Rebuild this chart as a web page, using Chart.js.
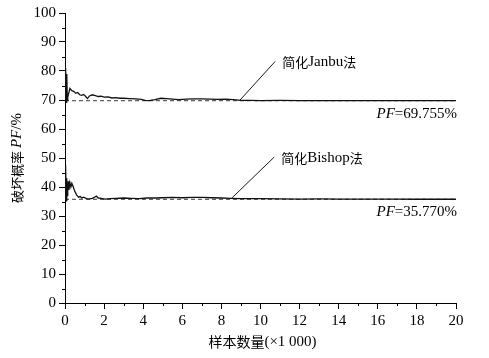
<!DOCTYPE html>
<html><head><meta charset="utf-8">
<script src="https://cdn.jsdelivr.net/npm/chart.js@4"></script>
<style>html,body{margin:0;padding:0;background:#fff}#wrap{width:489px;height:358px}</style>
</head><body><div id="wrap"><canvas id="c" width="489" height="358"></canvas></div>
<script>
const janbuX = [0,0.02,0.04,0.06,0.08,0.1,0.12,0.14,0.18,0.25,0.35,0.45,0.55,0.65,0.75,0.85,0.95,1.05,1.15,1.25,1.4,1.55,1.7,1.85,2.0,2.2,2.4,2.6,2.8,3.0,3.3,3.6,3.9,4.1,4.3,4.6,4.9,5.2,5.5,5.8,6.2,6.6,7.0,7.4,7.8,8.2,8.6,9.0,9.5,10,11,12,13,14,15,16,17,18,19,20];
const janbuY = [70,76,81,72,69,79,70,71,72,74,73.2,73,72.3,72.6,71.8,71.6,71.9,71.3,70.5,71.4,71.8,71.5,71.2,71.3,71.0,71.1,70.7,70.8,70.6,70.6,70.5,70.4,70.2,69.9,69.8,70.1,70.6,70.5,70.3,70.1,70.3,70.4,70.4,70.3,70.2,70.3,70.1,69.9,69.85,69.8,69.85,69.8,69.8,69.8,69.75,69.8,69.8,69.75,69.76,69.755];
const bishopX = [0,0.02,0.04,0.06,0.08,0.1,0.12,0.14,0.17,0.2,0.25,0.3,0.35,0.42,0.5,0.6,0.7,0.77,0.85,0.95,1.1,1.25,1.4,1.5,1.6,1.7,1.85,2.05,2.3,2.6,3.0,3.4,3.8,4.2,4.6,5.0,5.5,6.0,6.5,7.0,7.5,8.0,8.5,9,10,11,12,13,14,15,16,17,18,19,20];
const bishopY = [36,44,47.5,37,35,43,37,39,42,39,41.5,40,41.3,40.1,38.5,37.2,36.4,36.8,36.2,36.5,36.0,35.9,36.1,36.4,36.9,36.2,36.1,35.8,36.0,36.1,36.2,36.1,36.0,36.2,36.2,36.3,36.4,36.3,36.4,36.4,36.3,36.2,36.1,36.0,36.0,35.9,35.85,35.9,35.85,35.8,35.8,35.8,35.78,35.77,35.77];
const pfJanbu = 69.755;
const pfBishop = 35.770;
const xRange = [0, 20];
const yRange = [0, 100];
const methodLabels = ['简化Janbu法', '简化Bishop法'];
const pfLabels = ['=69.755%', '=35.770%'];
const xTitle = ['样本数量', '(×1 000)'];
const yTitleParts = ['破坏概率 ', 'PF', '/%'];

const SERIF = '"Liberation Serif", "Times New Roman", serif';
const CJK = '"Noto Sans CJK SC", sans-serif';

function pts(xs, ys){ return xs.map((x,i)=>({x:x, y:ys[i]})); }

const annotations = [
  {from:[8.95, pfJanbu+0.2], to:[10.75, 83.3], label: methodLabels[0], pf: pfLabels[0], pfY: pfJanbu},
  {from:[8.55, 36.3], to:[10.7, 50.3], label: methodLabels[1], pf: pfLabels[1], pfY: pfBishop}
];

function drawMixed(ctx, parts, x, y){
  let cx = x;
  for (const p of parts){
    ctx.font = p.font;
    ctx.fillText(p.t, cx, y);
    cx += ctx.measureText(p.t).width;
  }
}
function mixedWidth(ctx, parts){
  let w=0; for(const p of parts){ctx.font=p.font; w+=ctx.measureText(p.t).width;} return w;
}

const overlay = {
  id: 'overlay',
  afterDraw(chart){
    const ctx = chart.ctx, xs = chart.scales.x, ys = chart.scales.y;
    const area = chart.chartArea;
    ctx.save();
    ctx.strokeStyle = '#000'; ctx.lineWidth = 1;
    for (let v = yRange[0]+5; v < yRange[1]; v += 10){
      const py = Math.round(ys.getPixelForValue(v))+0.5;
      ctx.beginPath(); ctx.moveTo(area.left-3, py); ctx.lineTo(area.left, py); ctx.stroke();
    }
    for (let v = xRange[0]+1; v < xRange[1]; v += 2){
      const px = Math.round(xs.getPixelForValue(v))+0.5;
      ctx.beginPath(); ctx.moveTo(px, area.bottom); ctx.lineTo(px, area.bottom+3); ctx.stroke();
    }
    ctx.fillStyle = '#000';
    ctx.textBaseline = 'middle';
    for (const a of annotations){
      const x1 = xs.getPixelForValue(a.from[0]), y1 = ys.getPixelForValue(a.from[1]);
      const x2 = xs.getPixelForValue(a.to[0]), y2 = ys.getPixelForValue(a.to[1]);
      ctx.lineWidth = 0.9;
      ctx.beginPath(); ctx.moveTo(x1,y1); ctx.lineTo(x2,y2); ctx.stroke();
      const m = a.label.match(/^(简化)(.*?)(法)$/);
      const parts = [
        {t: m[1], font: '13px ' + CJK},
        {t: m[2], font: '15px ' + SERIF},
        {t: m[3], font: '13px ' + CJK}
      ];
      drawMixed(ctx, parts, x2 + 7, y2 + 1);
      const pparts = [{t:'PF', font:'italic 15px ' + SERIF}, {t:a.pf, font:'15px ' + SERIF}];
      const w = mixedWidth(ctx, pparts);
      drawMixed(ctx, pparts, area.right + 1 - w, ys.getPixelForValue(a.pfY) + 13);
    }
    ctx.save();
    ctx.translate(17, (area.top + area.bottom)/2);
    ctx.rotate(-Math.PI/2);
    const yparts = [
      {t: yTitleParts[0], font: '13px ' + CJK},
      {t: yTitleParts[1], font: 'italic 15px ' + SERIF},
      {t: yTitleParts[2], font: '15px ' + SERIF}
    ];
    const yw = mixedWidth(ctx, yparts);
    drawMixed(ctx, yparts, -yw/2, 0);
    ctx.restore();
    const xparts = [
      {t: xTitle[0], font: '14px ' + CJK},
      {t: xTitle[1], font: '15px ' + SERIF}
    ];
    const xw = mixedWidth(ctx, xparts);
    drawMixed(ctx, xparts, (area.left+area.right)/2 + 2 - xw/2, 342);
    ctx.restore();
  }
};

new Chart(document.getElementById('c'), {
  type: 'line',
  data: {
    datasets: [
      {data: pts(janbuX, janbuY), borderColor:'#111', borderWidth:1.3, pointRadius:0, tension:0},
      {data: pts(bishopX, bishopY), borderColor:'#111', borderWidth:1.3, pointRadius:0, tension:0},
      {data: pts(xRange, [pfJanbu, pfJanbu]), borderColor:'#222', borderWidth:0.9, borderDash:[4,3], pointRadius:0},
      {data: pts(xRange, [pfBishop, pfBishop]), borderColor:'#222', borderWidth:0.9, borderDash:[4,3], pointRadius:0}
    ]
  },
  options: {
    responsive: false,
    animation: false,
    layout: {padding: {left: 0, right: 33, top: 13, bottom: 0}},
    plugins: {legend:{display:false}, tooltip:{enabled:false}},
    scales: {
      x: {
        type: 'linear', min: xRange[0], max: xRange[1],
        afterFit(s){ s.height = 55; },
        ticks: {stepSize: 2, color:'#000', font:{family: SERIF, size: 15}, padding: 3, maxRotation: 0},
        grid: {display: true, drawOnChartArea: false, drawTicks: true, tickLength: 6, color:'#000'},
        border: {display: true, color:'#000', width: 1}
      },
      y: {
        type: 'linear', min: yRange[0], max: yRange[1],
        afterFit(s){ s.width = 65; },
        ticks: {stepSize: 10, color:'#000', font:{family: SERIF, size: 15}, padding: 3},
        grid: {display: true, drawOnChartArea: false, drawTicks: true, tickLength: 6, color:'#000'},
        border: {display: true, color:'#000', width: 1}
      }
    }
  },
  plugins: [overlay]
});
</script>
</body></html>
